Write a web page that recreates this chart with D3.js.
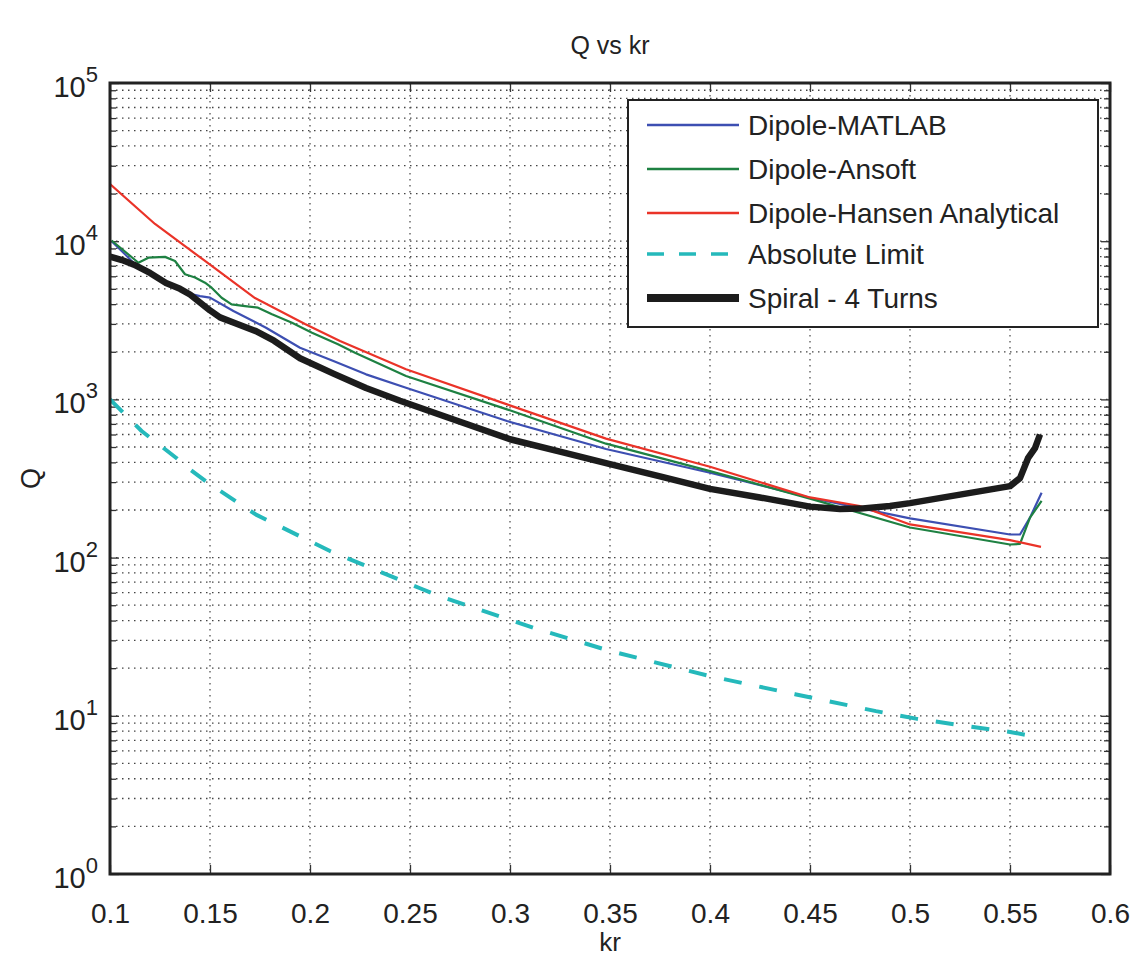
<!DOCTYPE html>
<html>
<head>
<meta charset="utf-8">
<script src="https://cdn.jsdelivr.net/npm/d3@7"></script>
<style>
  body { margin: 0; background: #fff; }
  text { font-family: "Liberation Sans", Arial, sans-serif; fill: #222; }
</style>
</head>
<body>
<div id="graph"></div>
<script>
// values
let krMatlab = [0.1008, 0.1075, 0.1117, 0.12, 0.128, 0.135, 0.14, 0.145, 0.15, 0.1617, 0.178, 0.195, 0.2117, 0.228, 0.248, 0.2985, 0.348, 0.40, 0.45, 0.50, 0.55, 0.555, 0.56, 0.5658];
let qMatlab = [10000, 8260, 7300, 6350, 5500, 5050, 4650, 4500, 4400, 3620, 2840, 2120, 1750, 1440, 1186, 730, 486, 344, 239, 177, 140, 140, 179, 257];

let krAnsoft = [0.1008, 0.1142, 0.1192, 0.1275, 0.1325, 0.1375, 0.1425, 0.1475, 0.1508, 0.1558, 0.1608, 0.1675, 0.174, 0.181, 0.191, 0.201, 0.214, 0.2225, 0.248, 0.2985, 0.348, 0.40, 0.45, 0.50, 0.55, 0.555, 0.56, 0.5658];
let qAnsoft = [10100, 7310, 7870, 7960, 7500, 6180, 5890, 5470, 5080, 4390, 3990, 3890, 3800, 3450, 3055, 2640, 2230, 1970, 1405, 865, 525, 352, 236, 155, 121, 122, 179, 228];

let krHansen = [0.100, 0.1225, 0.1475, 0.1725, 0.1975, 0.215, 0.248, 0.2985, 0.348, 0.40, 0.45, 0.475, 0.50, 0.55, 0.5655];
let qHansen = [23000, 12850, 7500, 4370, 3000, 2340, 1550, 930, 565, 375, 240, 212, 162, 129, 117];

let krLimit = [0.100, 0.1158, 0.1233, 0.133, 0.14, 0.149, 0.173, 0.21, 0.255, 0.265, 0.3117, 0.35, 0.40, 0.4425, 0.483, 0.503, 0.523, 0.55, 0.5658];
let qLimit = [1000, 631, 533, 428, 361, 297, 187, 110, 64, 57, 36, 25.7, 17.8, 13.7, 10.7, 9.6, 8.8, 7.9, 7.27];

let krSpiral = [0.100, 0.106, 0.112, 0.120, 0.128, 0.135, 0.140, 0.145, 0.150, 0.155, 0.162, 0.173, 0.182, 0.195, 0.212, 0.228, 0.245, 0.27, 0.30, 0.325, 0.35, 0.375, 0.40, 0.425, 0.45, 0.465, 0.475, 0.49, 0.50, 0.525, 0.55, 0.555, 0.559, 0.5625, 0.565];
let qSpiral = [8000, 7600, 7100, 6300, 5450, 5000, 4600, 4100, 3650, 3300, 3050, 2700, 2350, 1820, 1450, 1180, 980, 760, 560, 467, 390, 326, 272, 240, 210, 203, 204, 212, 221, 250, 283, 318, 425, 492, 600];

let xTicks = [0.1, 0.15, 0.2, 0.25, 0.3, 0.35, 0.4, 0.45, 0.5, 0.55, 0.6];
let yExponents = [0, 1, 2, 3, 4, 5];
let seriesNames = ["Dipole-MATLAB", "Dipole-Ansoft", "Dipole-Hansen Analytical", "Absolute Limit", "Spiral - 4 Turns"];

// series setup, styles kept here
let series = [
  { name: seriesNames[0], kr: krMatlab, q: qMatlab, color: "#3d4fb2", width: 2.2, dash: null },
  { name: seriesNames[1], kr: krAnsoft, q: qAnsoft, color: "#1e8142", width: 2.2, dash: null },
  { name: seriesNames[2], kr: krHansen, q: qHansen, color: "#ea3328", width: 2.2, dash: null },
  { name: seriesNames[3], kr: krLimit, q: qLimit, color: "#25b9bb", width: 4, dash: "18,18" },
  { name: seriesNames[4], kr: krSpiral, q: qSpiral, color: "#1c1c1c", width: 6.5, dash: null },
];

let margin = { top: 83, right: 32, bottom: 86, left: 110 },
  width = 1000,
  height = 791;

let root = d3
  .select("#graph")
  .append("svg")
  .attr("width", width + margin.left + margin.right)
  .attr("height", height + margin.top + margin.bottom);

let svg = root
  .append("g")
  .attr("transform", "translate(" + margin.left + "," + margin.top + ")");

let x = d3.scaleLinear().domain([0.1, 0.6]).range([0, width]);
let y = d3.scaleLog().domain([1, 1e5]).range([height, 0]);

// minor values for the log axis
let minorVals = [];
for (let e = 0; e < 5; e++) {
  for (let m = 2; m <= 9; m++) minorVals.push(m * Math.pow(10, e));
}
let decadeVals = yExponents.map((e) => Math.pow(10, e));

//grid, dotted like matlab
let grid = svg.append("g").attr("class", "grid");
grid
  .selectAll("line.h")
  .data(decadeVals.slice(1, -1).concat(minorVals))
  .enter()
  .append("line")
  .attr("x1", 0)
  .attr("x2", width)
  .attr("y1", (d) => y(d))
  .attr("y2", (d) => y(d))
  .attr("stroke", "#444")
  .attr("stroke-width", 1.3)
  .attr("stroke-dasharray", "1.5,4.5");
grid
  .selectAll("line.v")
  .data(xTicks.slice(1, -1))
  .enter()
  .append("line")
  .attr("x1", (d) => x(d))
  .attr("x2", (d) => x(d))
  .attr("y1", 0)
  .attr("y2", height)
  .attr("stroke", "#555")
  .attr("stroke-width", 1.3)
  .attr("stroke-dasharray", "1.5,4.5");

// x axis bottom with labels
let xAxis = svg
  .append("g")
  .attr("transform", "translate(0," + height + ")")
  .call(
    d3.axisBottom(x).tickValues(xTicks).tickSize(-9).tickSizeOuter(0).tickPadding(29)
      .tickFormat((d) => String(d))
  );
xAxis.select(".domain").remove();
xAxis.selectAll("line").attr("stroke", "#333").attr("stroke-width", 1.3);
xAxis.selectAll("text").style("font-size", "28px").attr("fill", "#222");

// x ticks on top
let xTop = svg
  .append("g")
  .call(d3.axisTop(x).tickValues(xTicks).tickSize(-9).tickSizeOuter(0).tickFormat(""));
xTop.select(".domain").remove();
xTop.selectAll("line").attr("stroke", "#333").attr("stroke-width", 1.3);

// y ticks left and right, major and minor
function yTicks(g, axisFn, size, values) {
  let a = g.call(axisFn(y).tickValues(values).tickSize(size).tickSizeOuter(0).tickFormat(""));
  a.select(".domain").remove();
  a.selectAll("line").attr("stroke", "#333").attr("stroke-width", 1.3);
}
yTicks(svg.append("g"), d3.axisLeft, -9, decadeVals);
yTicks(svg.append("g"), d3.axisLeft, -6, minorVals);
yTicks(svg.append("g").attr("transform", "translate(" + width + ",0)"), d3.axisRight, -9, decadeVals);
yTicks(svg.append("g").attr("transform", "translate(" + width + ",0)"), d3.axisRight, -6, minorVals);

// y tick labels as 10^n
let yLab = svg
  .append("g")
  .selectAll("text")
  .data(yExponents)
  .enter()
  .append("text")
  .attr("x", -12)
  .attr("y", (d) => y(Math.pow(10, d)) + 14)
  .attr("text-anchor", "end");
yLab.append("tspan").style("font-size", "29px").text("10");
yLab.append("tspan").style("font-size", "22px").attr("dy", -15).text((d) => d);

// lines
let line = d3
  .line()
  .x((d) => x(d[0]))
  .y((d) => y(d[1]));

let clip = svg.append("clipPath").attr("id", "plotclip");
clip.append("rect").attr("width", width).attr("height", height);

svg
  .append("g")
  .attr("clip-path", "url(#plotclip)")
  .selectAll("path")
  .data(series)
  .enter()
  .append("path")
  .attr("d", (s) => line(d3.zip(s.kr, s.q)))
  .attr("fill", "none")
  .attr("stroke", (s) => s.color)
  .attr("stroke-width", (s) => s.width)
  .attr("stroke-dasharray", (s) => s.dash)
  .attr("stroke-linejoin", "round");

// frame
svg
  .append("rect")
  .attr("width", width)
  .attr("height", height)
  .attr("fill", "none")
  .attr("stroke", "#222")
  .attr("stroke-width", 3);

// legend
let legend = root.append("g").attr("transform", "translate(628,100)");
legend
  .append("rect")
  .attr("width", 470)
  .attr("height", 227)
  .attr("fill", "#fff")
  .attr("stroke", "#222")
  .attr("stroke-width", 2);
let rowY = [25, 69, 113, 154, 198];
let rows = legend
  .selectAll("g.row")
  .data(series)
  .enter()
  .append("g")
  .attr("transform", (d, i) => "translate(0," + rowY[i] + ")");
rows
  .append("line")
  .attr("x1", 19)
  .attr("x2", 111)
  .attr("stroke", (s) => s.color)
  .attr("stroke-width", (s) => (s.width > 5 ? 8 : s.width > 3 ? 3.5 : 2.4))
  .attr("stroke-dasharray", (s) => (s.dash ? "17,15" : null));
rows
  .append("text")
  .attr("x", 120)
  .attr("y", 10)
  .style("font-size", "28px")
  .text((s) => s.name);

// titles
root
  .append("text")
  .attr("x", margin.left + width / 2)
  .attr("y", 54)
  .attr("text-anchor", "middle")
  .style("font-size", "25px")
  .text("Q vs kr");
root
  .append("text")
  .attr("x", margin.left + width / 2)
  .attr("y", 951)
  .attr("text-anchor", "middle")
  .style("font-size", "26px")
  .text("kr");
root
  .append("text")
  .attr("transform", "translate(40," + (margin.top + height / 2) + ") rotate(-90)")
  .attr("text-anchor", "middle")
  .style("font-size", "27px")
  .text("Q");
</script>
</body>
</html>
